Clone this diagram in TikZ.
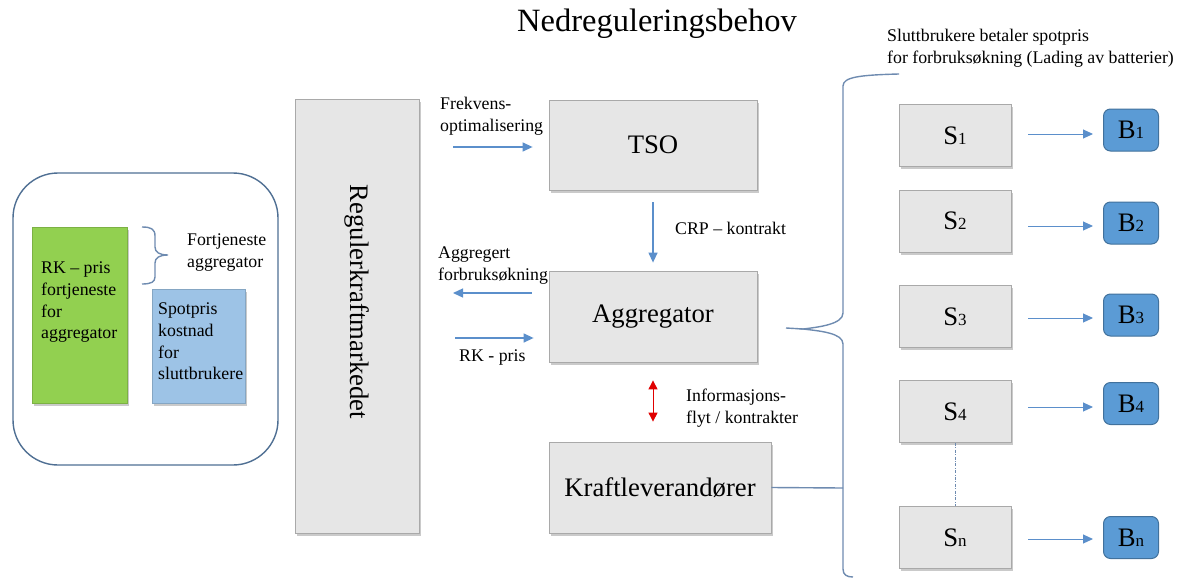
\documentclass[tikz,border=0pt]{standalone}
\usepackage{fontspec}
\setmainfont{Liberation Serif}
\usetikzlibrary{arrows.meta,shadows}

\definecolor{boxfill}{HTML}{E6E6E6}
\definecolor{boxline}{HTML}{A9A9A9}
\definecolor{arrowblue}{HTML}{5B8FCB}
\definecolor{braceblue}{HTML}{6E8BB0}
\definecolor{panelline}{HTML}{4F6F93}
\definecolor{batfill}{HTML}{5B9BD5}
\definecolor{batline}{HTML}{41719C}
\definecolor{greenfill}{HTML}{92D050}
\definecolor{bluefill}{HTML}{9DC3E6}
\definecolor{infored}{HTML}{E00000}

\newcommand{\boxtextsize}{\rmfamily\fontsize{26.7}{30}\selectfont}
\newcommand{\labeltextsize}{\rmfamily\fontsize{17.8}{21.6}\selectfont}
\newcommand{\indexsize}{\rmfamily\fontsize{17}{17}\selectfont}

\tikzset{
  shade box/.style={drop shadow={shadow xshift=1.5pt, shadow yshift=-2.5pt, opacity=0.35, fill=black!60}},
  graybox/.style={draw=boxline, fill=boxfill, line width=0.8pt, inner sep=0pt,
    font=\boxtextsize, shade box},
  sbox/.style={graybox, minimum width=112pt, minimum height=62pt},
  bbox/.style={draw=batline, fill=batfill, line width=1pt, rounded corners=7pt,
    minimum width=55pt, minimum height=42pt, inner sep=0pt, font=\boxtextsize},
  flow/.style={draw=arrowblue, line width=1.3pt,
    -{Triangle[length=10pt,width=9pt]}},
  lbl/.style={font=\labeltextsize, inner sep=0pt, align=left},
  bracestyle/.style={draw=braceblue, line width=1.4pt},
}

\begin{document}
\begin{tikzpicture}[x=1pt,y=-1pt]
\useasboundingbox (0,0) rectangle (1182,578);

% title
\node[font=\rmfamily\fontsize{32.5}{36}\selectfont, inner sep=0pt] (title) at (657,24) {Nedreguleringsbehov};

% left panel
\draw[draw=panelline, line width=1.4pt, rounded corners=45pt] (13,173) rectangle (278,465);
\node[draw=greenfill!85!black, line width=0.5pt, fill=greenfill, minimum width=95pt, minimum height=176pt,
  inner sep=0pt, shade box] (green) at (80,315) {};
\node[draw=bluefill!85!black, line width=0.5pt, fill=bluefill, minimum width=93pt, minimum height=114pt,
  inner sep=0pt, shade box] (blue) at (198.5,346) {};
\node[lbl, anchor=north west] (greentext) at (41,262) {RK – pris\\fortjeneste\\for\\aggregator};
\node[lbl, anchor=north west] (bluetext) at (158,303) {Spotpris\\kostnad\\for\\sluttbrukere};
\draw[bracestyle] (142,227) .. controls (151,227) and (155,229) .. (155,236) -- (155,247)
  .. controls (155,252) and (159,255) .. (168,255)
  .. controls (159,255) and (155,258) .. (155,263) -- (155,277)
  .. controls (155,282) and (151,284) .. (142,284);
\node[lbl, anchor=north west] (profit) at (187,234) {Fortjeneste\\aggregator};

% market
\node[graybox, minimum width=124pt, minimum height=434pt] (reg) at (357,316) {};
\node[font=\boxtextsize, rotate=-90, inner sep=0pt] (regtext) at (357,302) {Regulerkraftmarkedet};

% central boxes
\node[graybox, minimum width=208pt, minimum height=90pt] (tso) at (653,145) {TSO};
\node[graybox, minimum width=208pt, minimum height=91pt] (agg) at (653,316.5) {Aggregator};
\node[graybox, minimum width=222pt, minimum height=91pt] (kraft) at (660,487.5) {Kraftleverandører};

% flows around the market
\coordinate (frA) at (453,147);
\draw[flow, shorten >=16pt] (frA) -- (frA -| tso.west);
\node[lbl, anchor=north west] (frtext) at (440,97) {Frekvens-\\optimalisering};

\draw[flow, shorten <=12pt, shorten >=8pt] (tso.south) -- (agg.north);
\node[lbl, anchor=west] (crp) at (675,228) {CRP – kontrakt};

\coordinate (agA) at (453,293);
\draw[flow, shorten <=17pt] (agA -| agg.west) -- (agA);
\node[lbl, anchor=north west] (agtext) at (438,247) {Aggregert\\forbruksøkning};

\coordinate (rkA) at (455,338);
\draw[flow, shorten >=15pt] (rkA) -- (rkA -| agg.west);
\node[lbl, anchor=west] (rktext) at (459,357) {RK - pris};

\draw[draw=infored, line width=1pt, {Triangle[length=9pt,width=9pt]}-{Triangle[length=9pt,width=9pt]},
  shorten <=18pt, shorten >=20pt] (agg.south) -- (kraft.north -| agg.south);
\node[lbl, anchor=north west] (infotext) at (686,389) {Informasjons-\\flyt / kontrakter};

% big brace gathering the end users
\coordinate (braceTip) at (803,329);
\coordinate (aggOut) at (786,328);
\draw[bracestyle] (899,74) .. controls (860,75) and (843,77) .. (843,86) -- (843,313)
  .. controls (843,324) and (820,327) .. (braceTip)
  .. controls (820,331) and (843,333) .. (843,344) -- (843,569)
  .. controls (843,575) and (847,577) .. (853,577);
\draw[bracestyle] (aggOut) -- (braceTip);
\draw[bracestyle] (kraft.east) -- (843,488);
\node[lbl, anchor=north west] (enduser) at (887,29) {Sluttbrukere betaler spotpris\\for forbruksøkning (Lading av batterier)};

% end users and batteries
\node[sbox] (s1) at (955,135.5) {S{\indexsize 1}};
\node[sbox] (s2) at (955,221) {S{\indexsize 2}};
\node[sbox] (s3) at (955,316.5) {S{\indexsize 3}};
\node[sbox] (s4) at (955,411.5) {S{\indexsize 4}};
\node[sbox] (sn) at (955,537.5) {S{\indexsize n}};

\node[bbox] (b1) at (1131,130) {B{\indexsize 1}};
\node[bbox] (b2) at (1131,223) {B{\indexsize 2}};
\node[bbox] (b3) at (1131,315) {B{\indexsize 3}};
\node[bbox] (b4) at (1131,403.5) {B{\indexsize 4}};
\node[bbox] (bn) at (1131,537.5) {B{\indexsize n}};

\foreach \s/\b/\y in {s1/b1/134, s2/b2/226, s3/b3/318, s4/b4/407, sn/bn/539}{
  \coordinate (row) at (0,\y);
  \draw[flow, line width=1pt, shorten <=17pt, shorten >=10pt] (row -| \s.east) -- (row -| \b.west);
}

\draw[draw=braceblue, line width=0.8pt, dash pattern=on 3pt off 1.5pt on 0.8pt off 1.5pt] (s4.south) -- (sn.north);
\end{tikzpicture}
\end{document}
